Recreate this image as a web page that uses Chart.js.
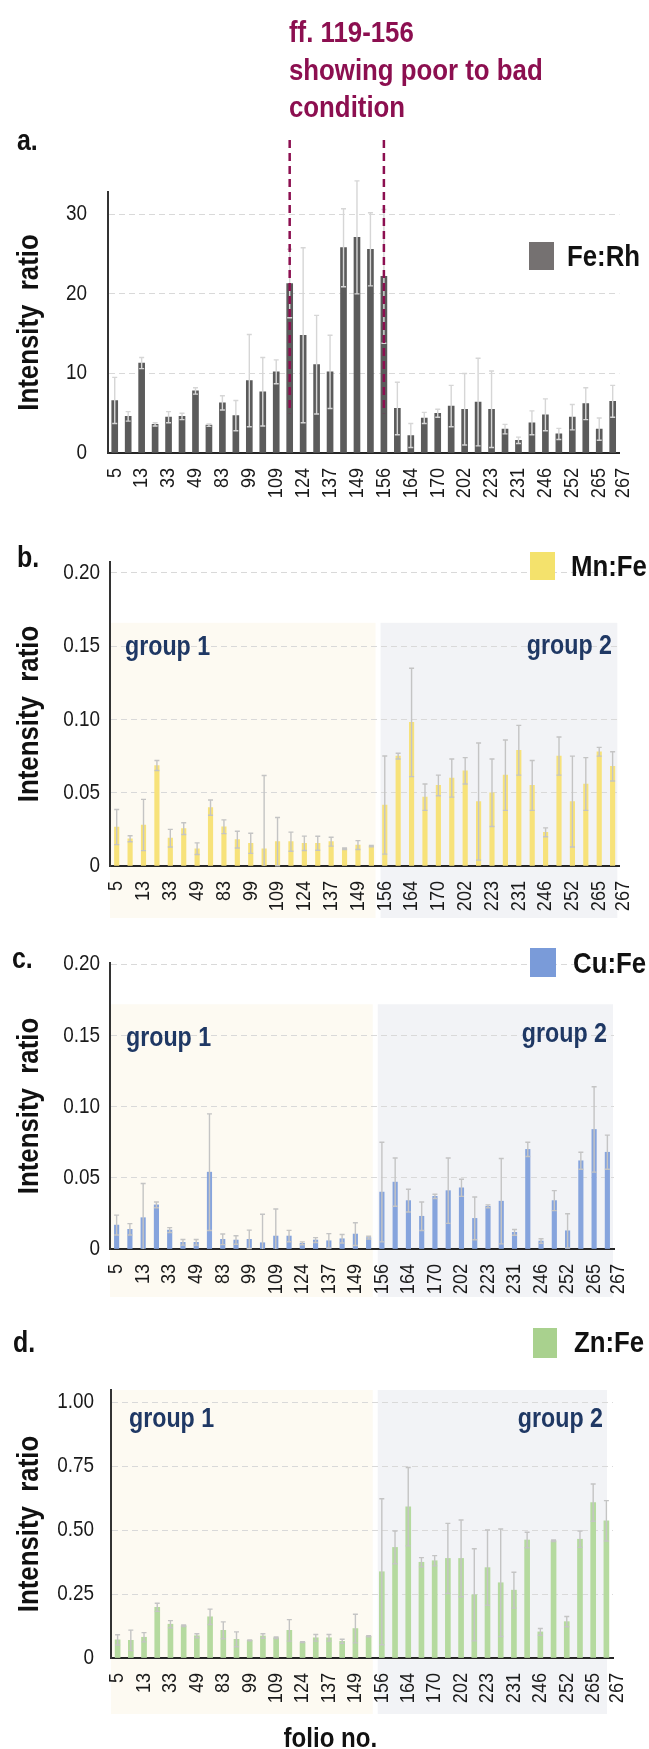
<!DOCTYPE html>
<html><head><meta charset="utf-8">
<script src="https://cdn.jsdelivr.net/npm/chart.js@4.4.1/dist/chart.umd.min.js"></script>
<style>
html,body{margin:0;padding:0;background:#fff}
body{position:relative;width:649px;height:1749px;overflow:hidden}
canvas{position:absolute;left:0}
.tx{position:absolute;white-space:nowrap;font-weight:bold;z-index:5}
.lg{position:absolute;z-index:5}
</style></head><body>
<script>
// ---------------- data ----------------
const folios = ['5','','13','','33','','49','','83','','99','','109','','124','','137','','149','',
                '156','','164','','170','','202','','223','','231','','246','','252','','265','267'];

const feRh    = [6.6,4.6,11.3,3.6,4.5,4.6,7.8,3.5,6.3,4.7,9.1,7.7,10.2,21.3,14.8,11.1,10.2,25.8,27.1,25.6,
                 22.2,5.6,2.2,4.4,5.0,5.9,5.5,6.4,5.5,3.0,1.6,3.8,4.8,2.4,4.5,6.2,3.0,6.5];
const feRhErr = [2.9,0.6,0.7,0.2,0.7,0.4,0.4,0.15,0.9,1.9,5.8,4.3,1.5,4.3,11,6.2,4.6,4.9,7.1,4.6,
                 8.4,3.3,1.5,0.7,0.5,2.6,4.5,5.5,4.8,0.6,0.4,1.5,2.0,0.7,1.6,2.0,1.4,2.0];

const mnFe    = [0.0266,0.0186,0.028,0.0686,0.019,0.0255,0.0118,0.0398,0.0268,0.018,0.0155,0.0118,0.0166,0.0166,0.0155,0.0155,0.0166,0.0118,0.0143,0.0136,
                 0.0416,0.075,0.098,0.047,0.055,0.060,0.065,0.044,0.050,0.062,0.079,0.055,0.023,0.075,0.044,0.056,0.078,0.068];
const mnFeErr = [0.012,0.002,0.0175,0.0034,0.006,0.004,0.004,0.0052,0.0047,0.0057,0.0069,0.05,0.0165,0.0065,0.0049,0.0048,0.003,0.0005,0.003,0.0005,
                 0.0335,0.002,0.037,0.009,0.007,0.013,0.009,0.04,0.023,0.024,0.017,0.017,0.003,0.013,0.031,0.018,0.003,0.01];

const cuFe    = [0.0168,0.0138,0.022,0.031,0.0133,0.0047,0.0047,0.054,0.0068,0.0063,0.0068,0.0044,0.0091,0.0091,0.004,0.0063,0.0058,0.0072,0.0105,0.008,
                 0.040,0.047,0.034,0.023,0.037,0.041,0.043,0.0215,0.030,0.0336,0.0117,0.070,0.0056,0.034,0.0128,0.062,0.084,0.068];
const cuFeErr = [0.007,0.004,0.024,0.002,0.0017,0.002,0.002,0.041,0.0037,0.003,0.0065,0.02,0.019,0.004,0.001,0.0017,0.005,0.003,0.008,0.001,
                 0.035,0.017,0.008,0.01,0.0015,0.023,0.006,0.015,0.001,0.030,0.002,0.005,0.0016,0.007,0.012,0.006,0.030,0.012];

const znFe    = [0.071,0.069,0.081,0.198,0.132,0.126,0.087,0.161,0.108,0.073,0.069,0.086,0.079,0.108,0.062,0.079,0.079,0.065,0.115,0.085,
                 0.337,0.432,0.591,0.374,0.380,0.389,0.389,0.247,0.353,0.294,0.265,0.461,0.102,0.458,0.142,0.464,0.607,0.536];
const znFeErr = [0.02,0.04,0.018,0.016,0.014,0.003,0.008,0.03,0.033,0.029,0.002,0.009,0.003,0.042,0.002,0.013,0.013,0.008,0.056,0.002,
                 0.285,0.064,0.153,0.018,0.02,0.137,0.15,0.18,0.147,0.21,0.07,0.03,0.013,0.003,0.02,0.032,0.073,0.079];

const seriesNames = ['Fe:Rh','Mn:Fe','Cu:Fe','Zn:Fe'];
const poorRange = [13, 20];          // bar indices of ff. 119 and 156
const groupSplit = 20;               // first bar of group 2 (f. 156)

// ---------------- fonts (condensed look via horizontal scale) ----------------
const FAM = "'Liberation Sans', Arial, sans-serif";
const KX = 0.86;
Chart.defaults.font.family = FAM;

function narrowize(ctx){
  const orig = ctx.fillText.bind(ctx);
  ctx.fillText = function(t, x, y, mw){
    this.save(); this.translate(x, y); this.scale(KX, 1);
    if (mw !== undefined && mw !== null) orig(t, 0, 0, mw / KX); else orig(t, 0, 0);
    this.restore();
  };
}

function addText(txt, x, yc, size, color, align){
  const d=document.createElement('div'); d.className='tx'; d.textContent=txt;
  const lh=Math.round(size*1.25);
  d.style.font=`bold ${size}px ${FAM}`; d.style.lineHeight=lh+'px'; d.style.color=color;
  d.style.top=(yc-lh/2)+'px';
  let tf='';
  if(align==='right'){ d.style.right=(649-x)+'px'; d.style.transformOrigin='right center'; }
  else if(align==='center'){ d.style.left=x+'px'; tf='translateX(-50%) '; d.style.transformOrigin='left center'; }
  else { d.style.left=x+'px'; d.style.transformOrigin='left center'; }
  tf+='scaleX('+KX+')';
  d.style.transform=tf;
  document.body.appendChild(d); return d;
}

// ---------------- plugins ----------------
const groupBg = {
  id:'groupBg',
  beforeDraw(chart, args, g){
    if(!g || !g.on) return;
    const {ctx, chartArea:ca, scales:{x,y}} = chart;
    const mid = (x.getPixelForValue(g.split-1) + x.getPixelForValue(g.split))/2;
    const top = (g.topValue==null) ? ca.top : y.getPixelForValue(g.topValue);
    const bot = ca.bottom + g.below;
    ctx.save();
    ctx.fillStyle=g.c1; ctx.fillRect(ca.left, top, mid-g.gap-ca.left, bot-top);
    const r = ca.right + g.rightOff;
    ctx.fillStyle=g.c2; ctx.fillRect(mid+g.gap, top, r-mid-g.gap, bot-top);
    ctx.restore();
  }
};
const overlay = {
  id:'overlay',
  afterDatasetsDraw(chart, args, o){
    const {ctx, scales:{x,y}} = chart;
    const meta = chart.getDatasetMeta(0);
    const vals = chart.data.datasets[0].data;
    ctx.save();
    ctx.strokeStyle=o.errColor; ctx.lineWidth=o.errWidth;
    meta.data.forEach((bar,i)=>{
      const v=vals[i], e=o.errors[i]; if(!e) return;
      const px=bar.x;
      const yt=y.getPixelForValue(v+e), yb=y.getPixelForValue(Math.max(v-e,0));
      ctx.beginPath();
      ctx.moveTo(px,yt); ctx.lineTo(px,yb);
      ctx.moveTo(px-o.cap,yt); ctx.lineTo(px+o.cap,yt);
      if(v-e>0){ ctx.moveTo(px-o.cap,yb); ctx.lineTo(px+o.cap,yb); }
      ctx.stroke();
    });
    if(o.marks){
      ctx.strokeStyle=o.markColor; ctx.lineWidth=2.5; ctx.setLineDash([8,5]);
      o.marks.forEach(idx=>{
        const px=x.getPixelForValue(idx);
        ctx.beginPath(); ctx.moveTo(px,o.markTop); ctx.lineTo(px,y.getPixelForValue(o.markBottomValue)); ctx.stroke();
      });
    }
    ctx.restore();
  }
};

// ---------------- panels ----------------
const fmt2 = v => v===0 ? '0' : Number(v).toFixed(2);
const lastIdx = folios.length-1;
const xTick = function(v, i){
  const lab = this.getLabelForValue(v);
  return (i===lastIdx) ? ['', lab] : lab;   // last label sits just right of its neighbour, as in the figure
};
const panels = [
  {top:0, h:520, area:{left:108,right:625,top:192,bottom:453}, label:seriesNames[0], data:feRh, err:feRhErr,
   color:'#5b5b5b', legendColor:'#757171', errColor:'#d6d6d6', bw:6, yMax:32.8, yStep:10, yFmt:v=>String(v), yPad:21,
   legend:{x:529,y:242,w:25,h:28,tx:567,ty:256},
   marks:poorRange, groups:null},
  {top:520, h:410, area:{left:110,right:620,top:562,bottom:866}, label:seriesNames[1], data:mnFe, err:mnFeErr,
   color:'#f7e27a', legendColor:'#f4e26c', errColor:'#c4c4c4', bw:4.5, yMax:0.2075, yStep:0.05, yFmt:fmt2, yPad:10,
   legend:{x:530,y:552,w:25,h:28,tx:571,ty:566},
   groups:{topValue:0.166, below:52, rightOff:-2}},
  {top:930, h:380, area:{left:110,right:614,top:963,bottom:1249}, label:seriesNames[2], data:cuFe, err:cuFeErr,
   color:'#86a4dd', legendColor:'#7a9bd9', errColor:'#c4c4c4', bw:4.5, yMax:0.201, yStep:0.05, yFmt:fmt2, yPad:10,
   legend:{x:530,y:948,w:26,h:29,tx:573,ty:963},
   groups:{topValue:0.172, below:48, rightOff:-1}},
  {top:1310, h:439, area:{left:111,right:613,top:1390,bottom:1658}, label:seriesNames[3], data:znFe, err:znFeErr,
   color:'#b5da9f', legendColor:'#a9d18e', errColor:'#c4c4c4', bw:5, yMax:1.047, yStep:0.25, yFmt:fmt2, yPad:17,
   legend:{x:533,y:1328,w:24,h:30,tx:574,ty:1342},
   groups:{topValue:null, below:56, rightOff:-6}}
];

panels.forEach(p=>{
  const cv=document.createElement('canvas');
  cv.width=649; cv.height=p.h; cv.style.top=p.top+'px';
  document.body.appendChild(cv);
  const ctx=cv.getContext('2d');
  narrowize(ctx);
  const A=p.area;
  const chart=new Chart(ctx,{
    type:'bar',
    data:{labels:folios, datasets:[{label:p.label, data:p.data, backgroundColor:p.color, borderWidth:0, barThickness:p.bw}]},
    options:{
      responsive:false, animation:false, devicePixelRatio:1,
      layout:{padding:{left:0, right:649-A.right, top:A.top-p.top, bottom:0}},
      plugins:{
        legend:{display:false}, tooltip:{enabled:false},
        groupBg: p.groups ? Object.assign({on:true, split:groupSplit, gap:2.5, c1:'#fdfaf2', c2:'#f2f3f6'}, p.groups) : {on:false},
        overlay:{errors:p.err, errColor:p.errColor, errWidth:1.4, cap:2.5,
                 marks:p.marks||null, markColor:'#8c0f50', markTop:140, markBottomValue:5}
      },
      scales:{
        x:{
          grid:{display:false, drawTicks:false},
          border:{display:true, color:'#262626', width:2},
          ticks:{autoSkip:false, maxRotation:90, minRotation:90, padding:15, color:'#1a1a1a',
                 font:{size:21, lineHeight:0.5}, callback:xTick},
          afterFit:s=>{ s.height = p.top + p.h - A.bottom; }
        },
        y:{
          min:0, max:p.yMax,
          grid:{color:c=>(c.tick && c.tick.value===0) ? 'rgba(0,0,0,0)' : '#d9d9d9', lineWidth:1, drawTicks:false},
          border:{display:true, color:'#333333', width:2, dash:[6,4]},
          ticks:{stepSize:p.yStep, includeBounds:false, padding:p.yPad, color:'#1a1a1a', font:{size:22}, callback:p.yFmt},
          title:{display:true, text:'Intensity  ratio', color:'#111', font:{size:30, weight:'bold', lineHeight:1.2}, padding:{top:12,bottom:0}},
          afterFit:s=>{ s.width = A.left; }
        }
      }
    },
    plugins:[groupBg, overlay]
  });
  // legend built from the dataset
  const ds=chart.data.datasets[0], L=p.legend;
  const box=document.createElement('div'); box.className='lg';
  box.style.cssText+=`left:${L.x}px;top:${L.y}px;width:${L.w}px;height:${L.h}px;background:${p.legendColor}`;
  document.body.appendChild(box);
  addText(ds.label, L.tx, L.ty, 30, '#111', 'left');
});

// ---------------- annotations ----------------
const RED='#8c0f50', NAVY='#1f3864';
addText('ff. 119-156', 289, 32, 30, RED, 'left');
addText('showing poor to bad', 289, 70, 30, RED, 'left');
addText('condition', 289, 107, 30, RED, 'left');
addText('a.', 17, 140, 29, '#111', 'left');
addText('b.', 17, 557, 29, '#111', 'left');
addText('c.', 12, 958, 29, '#111', 'left');
addText('d.', 13, 1342, 29, '#111', 'left');
addText('group 1', 125, 646, 27, NAVY, 'left');
addText('group 2', 612, 645, 27, NAVY, 'right');
addText('group 1', 126, 1037, 27, NAVY, 'left');
addText('group 2', 607, 1033, 27, NAVY, 'right');
addText('group 1', 129, 1418, 27, NAVY, 'left');
addText('group 2', 603, 1418, 27, NAVY, 'right');
addText('folio no.', 338, 1737, 28, '#111', 'center');
</script>
</body></html>
